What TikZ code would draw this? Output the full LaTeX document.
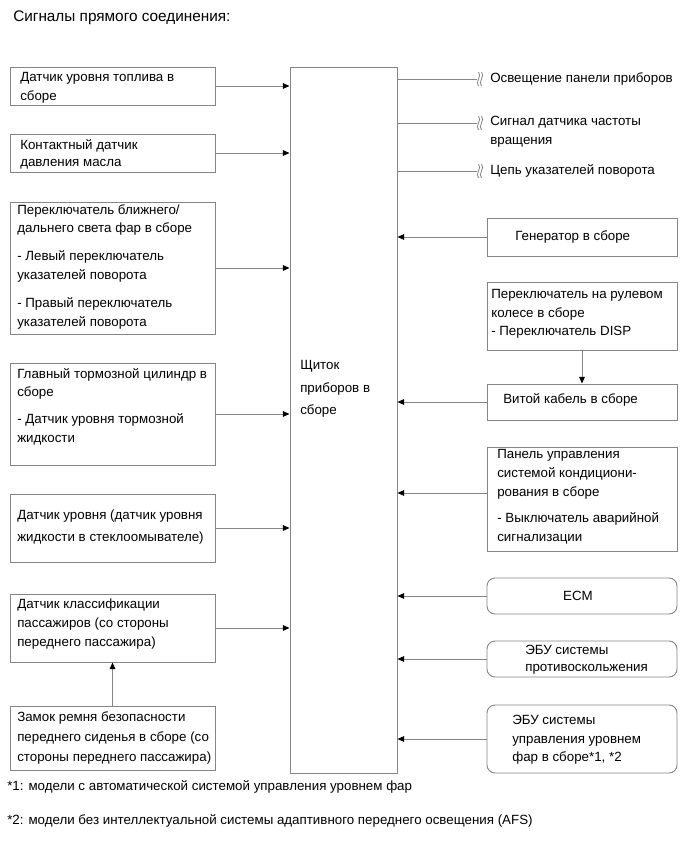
\documentclass[tikz,border=0pt]{standalone}
\usepackage{fontspec}
\setmainfont{Liberation Sans}
\usetikzlibrary{arrows.meta}
\definecolor{lc}{HTML}{858585}
\begin{document}
\begin{tikzpicture}[x=0.75pt,y=-0.75pt,
  lbox/.style={draw=lc, line width=0.7pt, inner sep=0pt, minimum width=153.75pt},
  rbox/.style={draw=lc, line width=0.7pt, inner sep=0pt, minimum width=142.5pt},
  rrbox/.style={rbox, rounded corners=6pt},
  cbox/.style={draw=lc, line width=0.7pt, inner sep=0pt, minimum width=80.25pt, minimum height=529.5pt},
  txt/.style={align=left, inner sep=0pt, anchor=west, font=\fontsize{10}{14}\selectfont},
  ln/.style={draw=lc, line width=0.7pt},
  arr/.style={draw=lc, line width=0.7pt, -{Triangle[length=5pt,width=4.2pt,color=black]}},
  wav/.pic={
    \draw[lc, line width=0.6pt] (-1.5,-7) .. controls (2.5,-3) and (-5.5,3) .. (-1.5,7);
    \draw[lc, line width=0.6pt] (1.5,-7) .. controls (5.5,-3) and (-2.5,3) .. (1.5,7);
  }
]
\useasboundingbox (0,0) rectangle (691,855);

% title
\node[txt, font=\fontsize{11.5}{14}\selectfont] (title) at (13,18) {Сигналы прямого соединения:};

% central box
\node[cbox] (c) at (343.5,420) {};
\node[txt, font=\fontsize{10}{17}\selectfont] (ct) at (300,389) {Щиток\\приборов в\\сборе};

% left boxes
\node[lbox, minimum height=28.5pt] (b1) at (112.5,86) {};
\node[txt] (t1) at (20,87.5) {Датчик уровня топлива в\\сборе};
\node[lbox, minimum height=28.5pt] (b2) at (112.5,153) {};
\node[txt, font=\fontsize{10}{13}\selectfont] (t2) at (20,154.5) {Контактный датчик\\давления масла};
\node[lbox, minimum height=99pt] (b3) at (112.5,268) {};
\node[txt] (t3) at (17,266.5) {Переключатель ближнего/\\дальнего света фар в сборе\\[7pt]- Левый переключатель\\указателей поворота\\[7pt]- Правый переключатель\\указателей поворота};
\node[lbox, minimum height=76.5pt] (b4) at (112.5,414) {};
\node[txt] (t4) at (17,406.5) {Главный тормозной цилиндр в\\сборе\\[6pt]- Датчик уровня тормозной\\жидкости};
\node[lbox, minimum height=51pt] (b5) at (112.5,528) {};
\node[txt, font=\fontsize{10}{16}\selectfont] (t5) at (17,527) {Датчик уровня (датчик уровня\\жидкости в стеклоомывателе)};
\node[lbox, minimum height=51pt] (b6) at (112.5,628) {};
\node[txt, font=\fontsize{10}{14.5}\selectfont] (t6) at (17,624) {Датчик классификации\\пассажиров (со стороны\\переднего пассажира)};
\node[lbox, minimum height=48pt] (b7) at (112.5,738) {};
\node[txt, font=\fontsize{10}{15}\selectfont] (t7) at (17,737.5) {Замок ремня безопасности\\переднего сиденья в сборе (со\\стороны переднего пассажира)};

% right boxes
\node[rbox, minimum height=28.5pt] (r1) at (582,237) {};
\node[txt] (s1) at (515,237) {Генератор в сборе};
\node[rbox, minimum height=51pt] (r2) at (582,316) {};
\node[txt] (s2) at (491,314) {Переключатель на рулевом\\колесе в сборе\\- Переключатель DISP};
\node[rbox, minimum height=27pt] (r3) at (582,402) {};
\node[txt] (s3) at (503,400) {Витой кабель в сборе};
\node[rbox, minimum height=78pt] (r4) at (582,499) {};
\node[txt] (s4) at (497,497) {Панель управления\\системой кондициони-\\рования в сборе\\[6pt]- Выключатель аварийной\\сигнализации};
\node[rrbox, minimum height=27pt] (r5) at (582,596) {};
\node[txt, anchor=center] (s5) at (578,596) {ECM};
\node[rrbox, minimum height=27pt] (r6) at (582,659) {};
\node[txt, font=\fontsize{10}{12.5}\selectfont] (s6) at (525,660) {ЭБУ системы\\противоскольжения};
\node[rrbox, minimum height=51pt] (r7) at (582,739) {};
\node[txt] (s7) at (512,740) {ЭБУ системы\\управления уровнем\\фар в сборе*1, *2};

% outputs
\coordinate (o1) at (477,79);
\coordinate (o2) at (477,123);
\coordinate (o3) at (477,171);
\draw[ln] (o1 -| c.east) -- (o1);
\draw[ln] (o2 -| c.east) -- (o2);
\draw[ln] (o3 -| c.east) -- (o3);
\pic at (480,79) {wav};
\pic at (480,123) {wav};
\pic at (480,171) {wav};
\node[txt] (u1) at (490,79) {Освещение панели приборов};
\node[txt] (u2) at (490,132) {Сигнал датчика частоты\\вращения};
\node[txt] (u3) at (490,171) {Цепь указателей поворота};

% connectors left
\foreach \b in {b1,b2,b3,b4,b5,b6}
  \draw[arr] (\b.east) -- (\b.east -| c.west);
\draw[arr] (b7.north) -- (b6.south);

% connectors right
\draw[arr] (r1.west) -- (r1.west -| c.east);
\draw[arr] (r3.west) -- (r3.west -| c.east);
\draw[arr] ([yshift=4.5pt]r4.west) -- ([yshift=4.5pt]r4.west -| c.east);
\draw[arr] (r5.west) -- (r5.west -| c.east);
\draw[arr] (r6.west) -- (r6.west -| c.east);
\draw[arr] (r7.west) -- (r7.west -| c.east);
\draw[arr] (r2.south) -- (r3.north);

% footnotes
\node[txt] (f1) at (7,787) {*1: модели с автоматической системой управления уровнем фар};
\node[txt] (f2) at (7,821) {*2: модели без интеллектуальной системы адаптивного переднего освещения (AFS)};
\end{tikzpicture}
\end{document}
